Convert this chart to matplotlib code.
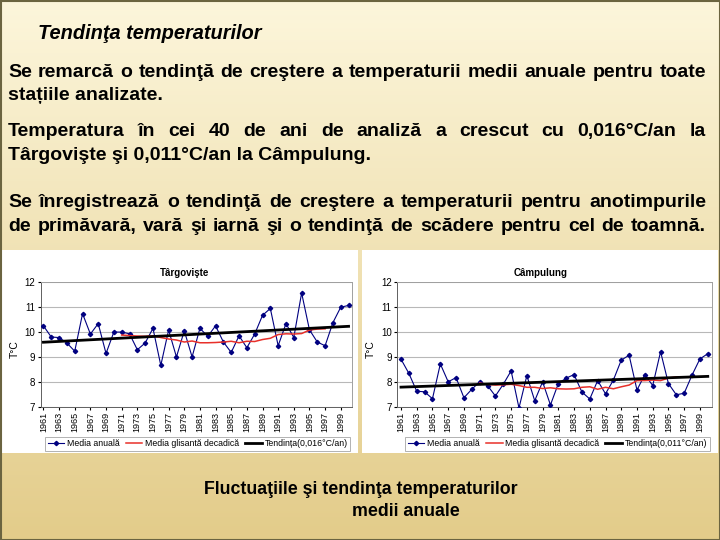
import numpy as np
import matplotlib
matplotlib.use("Agg")
import matplotlib.pyplot as plt
from matplotlib.patches import Rectangle

W, H = 720, 540

# ---- data ----
years = list(range(1961, 2001))
targoviste = [10.25, 9.80, 9.78, 9.56, 9.23, 10.74, 9.92, 10.34, 9.14, 10.00,
              10.00, 9.93, 9.29, 9.56, 10.15, 8.66, 10.08, 9.00, 10.05, 9.00,
              10.15, 9.83, 10.25, 9.60, 9.18, 9.85, 9.37, 9.92, 10.67, 10.95,
              9.45, 10.34, 9.78, 11.57, 10.09, 9.60, 9.45, 10.38, 11.00, 11.07]
campulung = [8.91, 8.34, 7.62, 7.60, 7.32, 8.72, 8.00, 8.17, 7.36, 7.70,
             8.00, 7.85, 7.43, 7.90, 8.44, 6.95, 8.25, 7.24, 8.00, 7.07,
             7.93, 8.15, 8.29, 7.59, 7.31, 8.05, 7.52, 8.07, 8.87, 9.07,
             7.67, 8.29, 7.85, 9.21, 7.93, 7.48, 7.54, 8.27, 8.92, 9.13]

ma_years = list(range(1971, 1998))
targoviste_ma = [9.88, 9.86, 9.84, 9.83, 9.85, 9.78, 9.72, 9.68, 9.60, 9.64,
                 9.57, 9.57, 9.58, 9.60, 9.63, 9.57, 9.63, 9.62, 9.70, 9.75,
                 9.90, 9.93, 9.92, 9.94, 10.08, 10.12, 10.13]
campulung_ma = [7.95, 7.90, 7.87, 7.88, 7.90, 7.85, 7.78, 7.78, 7.73, 7.76,
                7.72, 7.71, 7.72, 7.78, 7.80, 7.70, 7.78, 7.72, 7.80, 7.87,
                8.05, 8.05, 8.07, 8.05, 8.15, 8.20, 8.20]

# linear trends as printed on the charts (x = 1..40)
trend_targoviste = (0.0164, 9.5747)
trend_campulung = (0.0111, 7.7747)

stations = [
    dict(name="Târgovişte", values=targoviste, ma=targoviste_ma, trend=trend_targoviste,
         eq="y = 0,0164x + 9,5747", r2="R² = 0,0948", rate="0,016°C/an",
         box=(2, 250, 358, 453), plot=(40.7, 282.3, 351.7, 406.7),
         xlim=(1960.65, 2000.4), title_x=185, eq_xy=(49, 288), r2_xy=(64, 300),
         ylab_x=15, leg=(43, 437, 352, 451)),
    dict(name="Câmpulung", values=campulung, ma=campulung_ma, trend=trend_campulung,
         eq="y = 0,0111x + 7,7747", r2="R² = 0,0498", rate="0,011°C/an",
         box=(362, 250, 718, 453), plot=(397.3, 282.3, 711.7, 406.7),
         xlim=(1960.53, 2000.5), title_x=541, eq_xy=(404, 292), r2_xy=(422, 303),
         ylab_x=371, leg=(403, 437, 712, 451)),
]

SLIDE_FONT = ["Liberation Sans", "DejaVu Sans"]
CHART_FONT = ["Liberation Sans", "DejaVu Sans"]

fig = plt.figure(figsize=(W / 100, H / 100), dpi=100)

# background: slide gradient, drawn in pixel coordinates
bg = fig.add_axes([0, 0, 1, 1])
bg.set_xlim(0, W)
bg.set_ylim(H, 0)
bg.axis("off")
top = np.array([0.99, 0.965, 0.86])
bot = np.array([0.89, 0.80, 0.54])
t = np.linspace(0, 1, 256)[:, None, None]
grad = top * (1 - t) + bot * t
grad = np.repeat(grad, 2, axis=1)
bg.imshow(grad, extent=(0, W, H, 0), aspect="auto", zorder=0)
bg.add_patch(Rectangle((0.5, 0.5), W - 1, H - 1, fill=False, ec="#6b6440", lw=1.5, zorder=5))

renderer = fig.canvas.get_renderer()


def justify(text, x0, x1, y, **kw):
    words = text.split()
    arts = [bg.text(0, y, w, va="baseline", **kw) for w in words]
    widths = [a.get_window_extent(renderer).width for a in arts]
    gap = (x1 - x0 - sum(widths)) / (len(words) - 1)
    x = x0
    for a, w in zip(arts, widths):
        a.set_x(x)
        x += w + gap


body = dict(fontsize=14, fontweight="bold", family=SLIDE_FONT, color="black")
bg.text(38, 39, "Tendinţa temperaturilor", va="baseline", fontsize=14.4,
        fontweight="bold", style="italic", family=SLIDE_FONT)
justify("Se remarcă o tendinţă de creştere a temperaturii medii anuale pentru toate",
        8, 706, 77, **body)
bg.text(8, 100, "stațiile analizate.", va="baseline", **body)
justify("Temperatura în cei 40 de ani de analiză a crescut cu 0,016°C/an la",
        8, 706, 136, **body)
bg.text(8, 160, "Târgovişte şi 0,011°C/an la Câmpulung.", va="baseline", **body)
justify("Se înregistrează o tendinţă de creştere a temperaturii pentru anotimpurile",
        8, 706, 207, **body)
justify("de primăvară, vară şi iarnă şi o tendinţă de scădere pentru cel de toamnă.",
        8, 706, 231, **body)

cap = dict(fontsize=12.8, fontweight="bold", family=SLIDE_FONT, va="baseline")
bg.text(204, 494, "Fluctuaţiile şi tendinţa temperaturilor", **cap)
bg.text(352, 516, "medii anuale", **cap)

for st in stations:
    bx0, by0, bx1, by1 = st["box"]
    bg.add_patch(Rectangle((bx0, by0), bx1 - bx0, by1 - by0, fc="white", ec="none", zorder=1))

    px0, py0, px1, py1 = st["plot"]
    ax = fig.add_axes([px0 / W, 1 - py1 / H, (px1 - px0) / W, (py1 - py0) / H])
    ax.set_facecolor("white")

    n = len(st["values"])
    a, b = st["trend"]
    trend_x = [years[0], years[-1]]
    trend_y = [a * 1 + b, a * n + b]

    ax.plot(years, st["values"], color="#000080", lw=0.8, marker="D", ms=2.2,
            label="Media anuală", zorder=3)
    ax.plot(ma_years, st["ma"], color="#e8302a", lw=1.1,
            label="Media glisantă decadică", zorder=4)
    ax.plot(trend_x, trend_y, color="black", lw=2.0,
            label="Tendința(" + st["rate"] + ")", zorder=5)

    ax.set_xlim(*st["xlim"])
    ax.set_ylim(7, 12)
    ax.set_yticks(range(7, 13))
    ax.set_xticks(range(1961, 2000, 2))
    ax.tick_params(axis="x", labelrotation=90, labelsize=6.5, length=2, pad=1.5)
    ax.tick_params(axis="y", labelsize=7, length=2, pad=2)
    for lab in ax.get_xticklabels() + ax.get_yticklabels():
        lab.set_family(CHART_FONT)
    ax.grid(axis="y", color="#b8b8b8", lw=0.8)
    for side in ("top", "right"):
        ax.spines[side].set_color("#a0a0a0")
        ax.spines[side].set_linewidth(0.7)
    for side in ("left", "bottom"):
        ax.spines[side].set_color("#606060")
        ax.spines[side].set_linewidth(0.7)

    bg.text(st["title_x"], 273, st["name"], ha="center", va="center", fontsize=7,
            fontweight="bold", family=CHART_FONT, zorder=6)
    bg.text(st["eq_xy"][0], st["eq_xy"][1], st["eq"], va="center", fontsize=7,
            family=CHART_FONT, zorder=6)
    bg.text(st["r2_xy"][0], st["r2_xy"][1], st["r2"], va="center", fontsize=7,
            family=CHART_FONT, zorder=6)
    bg.text(st["ylab_x"], (py0 + py1) / 2 + 5, "T°C", rotation=90, ha="center",
            va="center", fontsize=7.5, family=CHART_FONT, zorder=6)

    lx0, ly0, lx1, ly1 = st["leg"]
    leg = ax.legend(loc="center", bbox_to_anchor=((lx0 + lx1) / 2 / W, 1 - (ly0 + ly1) / 2 / H),
                    bbox_transform=fig.transFigure, ncol=3, frameon=True,
                    fancybox=False, edgecolor="#909090", handlelength=1.9,
                    handletextpad=0.3, columnspacing=0.7, borderpad=0.3,
                    prop={"family": CHART_FONT, "size": 6.3})
    leg.get_frame().set_linewidth(0.6)

fig.savefig("out.png", dpi=100)
